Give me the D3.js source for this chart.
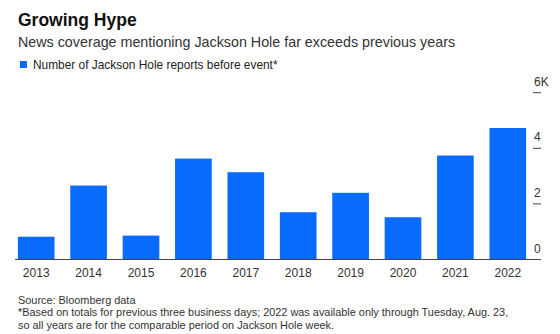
<!DOCTYPE html>
<html>
<head>
<meta charset="utf-8">
<script src="https://cdn.jsdelivr.net/npm/d3@7"></script>
<style>
  html, body { margin: 0; padding: 0; background: #fff; }
  svg { display: block; font-family: "Liberation Sans", Arial, Helvetica, sans-serif; }
</style>
</head>
<body>
<svg id="chart" width="560" height="334"></svg>
<script>
const years = ["2013","2014","2015","2016","2017","2018","2019","2020","2021","2022"];
const reports = [820, 2660, 860, 3630, 3140, 1700, 2400, 1520, 3740, 4730];
const yTicks = [0, 2000, 4000, 6000];
const yTickLabels = ["0", "2", "4", "6K"];

const svg = d3.select("#chart");
const blue = "#0a6cff";

const x = d3.scaleBand().domain(years).range([10, 534]).paddingInner(0.3).paddingOuter(0.15);
const y = d3.scaleLinear().domain([0, 6000]).range([259.5, 92.7]);

// Titles
svg.append("text").attr("x", 18).attr("y", 26).attr("font-size", 17.5).attr("font-weight", "bold").attr("fill", "#111").text("Growing Hype");
svg.append("text").attr("x", 18).attr("y", 47).attr("font-size", 14.3).attr("fill", "#333").text("News coverage mentioning Jackson Hole far exceeds previous years");

// Legend
svg.append("rect").attr("x", 20).attr("y", 61).attr("width", 7).attr("height", 7).attr("fill", blue);
svg.append("text").attr("x", 33).attr("y", 69).attr("font-size", 11.9).attr("fill", "#222").text("Number of Jackson Hole reports before event*");

// Bars
svg.append("g").selectAll("rect").data(years).join("rect")
  .attr("x", d => x(d))
  .attr("width", x.bandwidth())
  .attr("y", (d, i) => y(reports[i]))
  .attr("height", (d, i) => y(0) - y(reports[i]))
  .attr("fill", blue);

// Baseline
svg.append("line").attr("x1", 15).attr("x2", 541).attr("y1", y(0)).attr("y2", y(0)).attr("stroke", "#444").attr("stroke-width", 1);

// Y axis ticks (right side)
const yAxis = svg.append("g");
yTicks.forEach((t, i) => {
  if (t !== 0) {
    yAxis.append("line").attr("x1", 533).attr("x2", 541).attr("y1", y(t)).attr("y2", y(t)).attr("stroke", "#444").attr("stroke-width", 1);
  }
  yAxis.append("text").attr("x", 534).attr("y", y(t) - 7).attr("font-size", 12).attr("fill", "#333").text(yTickLabels[i]);
});

// X axis labels
const xAxis = d3.axisBottom(x).tickSize(0).tickPadding(0);
const gx = svg.append("g").attr("transform", `translate(0,${y(0)})`).call(xAxis);
gx.select(".domain").remove();
gx.selectAll("text").attr("font-size", 12).attr("fill", "#333").attr("font-family", "Liberation Sans, Arial, sans-serif").attr("dy", "1.45em");

// Footer
const foot = ["Source: Bloomberg data",
  "*Based on totals for previous three business days; 2022 was available only through Tuesday, Aug. 23,",
  "so all years are for the comparable period on Jackson Hole week."];
foot.forEach((t, i) => {
  svg.append("text").attr("x", 18).attr("y", 303.5 + i * 12.5).attr("font-size", 10.9).attr("fill", "#333").text(t);
});
</script>
</body>
</html>
